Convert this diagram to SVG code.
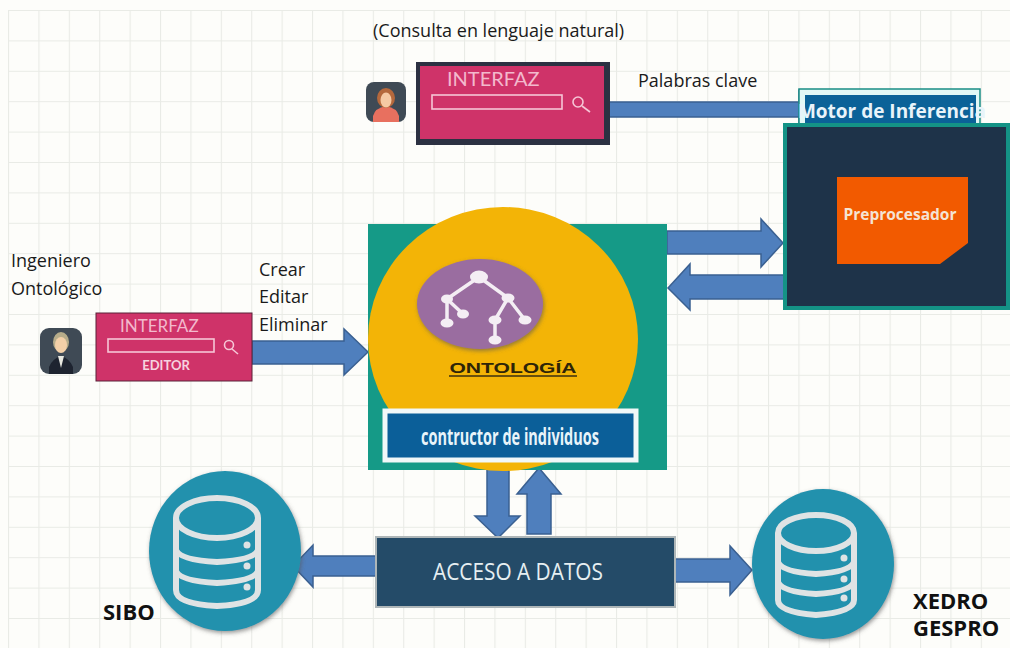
<svg xmlns="http://www.w3.org/2000/svg" width="1010" height="648" viewBox="0 0 1010 648">
<defs>
<pattern id="grid" x="8" y="10" width="30.4" height="30.4" patternUnits="userSpaceOnUse">
<path d="M0.5 0V30.4M0 0.5H30.4" fill="none" stroke="#e9ebe6" stroke-width="1.2"/>
</pattern>
<g id="db">
<circle r="76" fill="#2191ad"/>
</g>
<filter id="soft" x="-10%" y="-10%" width="120%" height="120%"><feDropShadow dx="1" dy="2" stdDeviation="2" flood-color="#555" flood-opacity=".6"/></filter>
</defs>
<style>
text{font-family:"Open Sans","Noto Sans","DejaVu Sans",sans-serif}
.lab{font-size:18px;fill:#1a1a1a}
.bold{font-size:22px;font-weight:700;fill:#111}
.arrow{fill:#4f7fbd;stroke:#3a6091;stroke-width:1.5}
.if{fill:#cf3369}
.ift{font-family:"Lato","Open Sans",sans-serif;fill:#f3b9cd}
.bar{fill:none;stroke:#f6c6d6;stroke-width:1.6}
.cyl{fill:none;stroke:#dfe3e4;stroke-width:6}
.cond{font-family:"Liberation Sans Narrow","Open Sans",sans-serif;fill:#e8f4fa}
</style>
<rect width="1010" height="648" fill="#fdfdfa"/>
<rect x="8" y="10" width="1002" height="638" fill="url(#grid)"/>
<g id="connectors">
<path class="arrow" d="M609 102H799V91L815 109L799 127V117H609Z"/>
<path class="arrow" d="M667 231H761V219L783 243L761 267V254H667Z"/>
<path class="arrow" d="M785 275H690V264L668 288L690 310V299H785Z"/>
<path class="arrow" d="M252 341H344V329L368 352L344 375V364H252Z"/>
<path class="arrow" d="M487 469H509V516H520L498 538L475 516H487Z"/>
<path class="arrow" d="M527 534H551V494H561L539 468L517 494H527Z"/>
<path class="arrow" d="M380 556H313V545L293 566L313 587V576H380Z"/>
<path class="arrow" d="M674 559H730V546L752 570L730 595V582H674Z"/>
</g>
<g id="node-consulta">
<text class="lab" x="373" y="37">(Consulta en lenguaje natural)</text>
</g>
<g id="node-usuario">
<rect x="366" y="82" width="40" height="40" rx="8" fill="#3f4a55"/>
<path d="M373 122V116Q375 108 386 106Q397 108 399 116V122Z" fill="#e8705f"/>
<ellipse cx="386" cy="98" rx="9" ry="10" fill="#b5683c"/>
<ellipse cx="386" cy="100" rx="5.500" ry="7.500" fill="#f6c9a4"/>
</g>
<g id="node-interfaz">
<rect x="416" y="62" width="194" height="83" fill="#2c3142"/>
<rect x="420" y="66" width="184" height="73" class="if"/>
<text class="ift" x="447" y="86" font-size="20">INTERFAZ</text>
<rect x="432" y="95" width="130" height="14" class="bar"/>
<circle cx="578" cy="102" r="5" class="bar"/>
<path d="M582 106L590 112" class="bar"/>
</g>
<text class="lab" x="638" y="87">Palabras clave</text>
<g id="node-motor">
<rect x="799" y="89" width="181" height="40" fill="#e2f8f6" stroke="#1a8d85" stroke-width="1.500"/>
<rect x="805" y="95" width="171" height="34" fill="#0b6298"/>
<text class="cond" x="892" y="118" font-size="19" font-weight="700" text-anchor="middle">Motor de Inferencia</text>
</g>
<g id="node-preprocesador">
<rect x="785" y="125" width="223" height="183" fill="#1e3349" stroke="#149386" stroke-width="4"/>
<path d="M837 177H968V243L940 264H837Z" fill="#f25a00"/>
<text x="900" y="220" font-size="15.500" font-weight="700" fill="#f5e4d4" text-anchor="middle">Preprocesador</text>
</g>
<g id="node-ingeniero">
<text class="lab" x="11" y="267">Ingeniero</text>
<text class="lab" x="11" y="295">Ontológico</text>
<rect x="40" y="328" width="42" height="46" rx="9" fill="#3f4a55"/>
<path d="M49 374V367Q52 359 61 356Q70 359 73 367V374Z" fill="#1e2430"/>
<path d="M58 356H64L61 368Z" fill="#e8e8e0"/>
<ellipse cx="61" cy="342" rx="8" ry="10" fill="#b6ac8a"/>
<ellipse cx="61" cy="345" rx="6" ry="8" fill="#f3d0a8"/>
</g>
<g id="node-editor">
<rect x="96" y="313" width="156" height="68" class="if" stroke="#5a2238" stroke-width="1"/>
<text class="ift" x="120" y="332" font-size="17">INTERFAZ</text>
<rect x="108" y="339" width="106" height="13" class="bar"/>
<circle cx="229" cy="345" r="4.500" class="bar"/>
<path d="M232 349L238 354" class="bar"/>
<text x="166" y="370" font-size="13" font-weight="700" fill="#f6d3df" text-anchor="middle" style="font-family:Lato,sans-serif">EDITOR</text>
</g>
<g id="acciones" class="lab">
<text class="lab" x="259" y="276">Crear</text>
<text class="lab" x="259" y="303">Editar</text>
<text class="lab" x="259" y="331">Eliminar</text>
</g>
<g id="node-ontologia">
<rect x="368" y="224" width="299" height="246" fill="#159a87"/>
<ellipse cx="503" cy="339" rx="135" ry="132" fill="#f3b406"/>
<ellipse cx="480" cy="304" rx="63" ry="45" fill="#9a6da0" filter="url(#soft)"/>
<g stroke="#f4eef4" stroke-width="3.500" fill="none">
<path d="M479 277L447 299V322M447 299L463 314M479 277L508 298L495 320V340M508 298L525 320"/>
</g>
<g fill="#f4eef4">
<ellipse cx="479" cy="277" rx="9" ry="6.500"/><ellipse cx="447" cy="299" rx="6" ry="4.500"/><ellipse cx="447" cy="323" rx="6.500" ry="4.500"/><ellipse cx="463" cy="314" rx="6" ry="4.500"/><ellipse cx="508" cy="298" rx="6.500" ry="4.500"/><ellipse cx="495" cy="320" rx="6.500" ry="4.500"/><ellipse cx="495" cy="340" rx="6.500" ry="4.500"/><ellipse cx="525" cy="320" rx="6.500" ry="4.500"/>
</g>
<text x="513" y="373" font-size="15.500" font-weight="700" fill="#2d2408" text-anchor="middle" textLength="127" lengthAdjust="spacingAndGlyphs" style="font-family:'Liberation Sans',sans-serif">ONTOLOGÍA</text>
<path d="M449 376H577" stroke="#3a2f10" stroke-width="1.500"/>
<rect x="385" y="411" width="251" height="49" fill="#0b5f99" stroke="#f1f8f8" stroke-width="5"/>
<text class="cond" x="510" y="445" font-size="23" font-weight="700" text-anchor="middle" textLength="178" lengthAdjust="spacingAndGlyphs">contructor de individuos</text>
</g>
<g id="node-acceso">
<rect x="376" y="537" width="299" height="70" fill="#244b68" stroke="#aeb6b8" stroke-width="2"/>
<text x="518" y="580" font-size="24" fill="#e6eff2" text-anchor="middle" textLength="170" lengthAdjust="spacingAndGlyphs" style="font-family:'Liberation Sans Narrow','Open Sans',sans-serif">ACCESO A DATOS</text>
</g>
<g id="node-sibo">
<ellipse cx="225" cy="551" rx="76" ry="80" fill="#2191ad" filter="url(#soft)"/>
<ellipse cx="217" cy="518" rx="41" ry="20" class="cyl"/>
<path class="cyl" d="M176 518V590Q176 604 217 606Q258 604 258 590V518M176 550Q180 560 217 562Q254 560 258 550M176 571Q180 581 217 583Q254 581 258 571"/>
<circle cx="247" cy="545" r="3.500" fill="#dfe3e4"/><circle cx="247" cy="566" r="3.500" fill="#dfe3e4"/><circle cx="247" cy="587" r="3.500" fill="#dfe3e4"/>
<text class="bold" x="103" y="620">SIBO</text>
</g>
<g id="node-xedro">
<ellipse cx="823" cy="564" rx="71" ry="75" fill="#2191ad" filter="url(#soft)"/>
<ellipse cx="816" cy="533" rx="38" ry="18" class="cyl"/>
<path class="cyl" d="M778 533V600Q778 612 816 615Q854 612 854 600V533M778 562Q782 572 816 574Q850 572 854 562M778 582Q782 592 816 594Q850 592 854 582"/>
<circle cx="844" cy="558" r="3.500" fill="#dfe3e4"/><circle cx="844" cy="579" r="3.500" fill="#dfe3e4"/><circle cx="844" cy="598" r="3.500" fill="#dfe3e4"/>
<text class="bold" x="913" y="609">XEDRO</text>
<text class="bold" x="913" y="636">GESPRO</text>
</g>
</svg>
